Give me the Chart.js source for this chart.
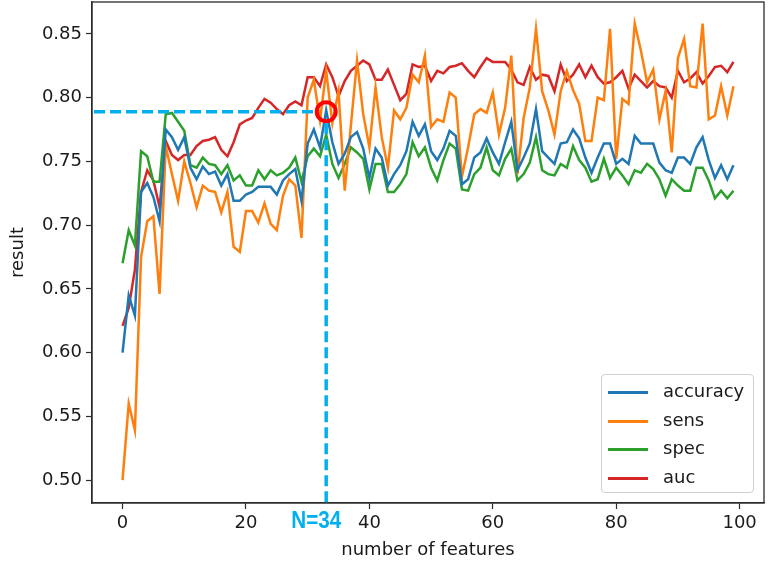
<!DOCTYPE html>
<html>
<head>
<meta charset="utf-8">
<script src="https://cdn.jsdelivr.net/npm/chart.js@4.4.1/dist/chart.umd.min.js"></script>
<style>
  html, body { margin: 0; padding: 0; background: #ffffff; }
  #wrap { position: relative; width: 772px; height: 566px; }
  #legend { position: absolute; left: 601px; top: 374px; width: 153px; height: 119px; box-sizing: border-box;
            border: 1px solid #d0d0d0; border-radius: 4px; background: rgba(255,255,255,0.85);
            font-family: "DejaVu Sans", sans-serif; font-size: 18px; color: #1a1a1a; }
  .row { position: absolute; left: 0; height: 24px; width: 100%; }
  .swatch { position: absolute; left: 6px; width: 40px; height: 3px; top: 11px; }
  .lab { position: absolute; left: 61px; top: 0; line-height: 22px; white-space: nowrap; }
</style>
</head>
<body>
<div id="wrap">
  <canvas id="c" width="772" height="566"></canvas>
  <div id="legend"></div>
</div>
<script>
// ---- data ----
const features = [0,1,2,3,4,5,6,7,8,9,10,11,12,13,14,15,16,17,18,19,20,21,22,23,24,25,26,27,28,29,30,31,32,33,34,35,36,37,38,39,40,41,42,43,44,45,46,47,48,49,50,51,52,53,54,55,56,57,58,59,60,61,62,63,64,65,66,67,68,69,70,71,72,73,74,75,76,77,78,79,80,81,82,83,84,85,86,87,88,89,90,91,92,93,94,95,96,97,98,99];

const accuracy = [0.600,0.645,0.629,0.726,0.733,0.722,0.703,0.775,0.769,0.759,
  0.769,0.745,0.736,0.746,0.740,0.742,0.731,0.740,0.719,0.719,
  0.724,0.726,0.730,0.730,0.730,0.724,0.735,0.740,0.744,0.719,
  0.764,0.775,0.761,0.790,0.765,0.748,0.756,0.769,0.773,0.760,
  0.737,0.760,0.753,0.731,0.740,0.747,0.758,0.781,0.770,0.779,
  0.758,0.751,0.760,0.774,0.770,0.732,0.736,0.753,0.757,0.768,
  0.757,0.748,0.765,0.781,0.743,0.753,0.764,0.791,0.758,0.753,
  0.748,0.764,0.765,0.775,0.768,0.753,0.741,0.753,0.764,0.764,
  0.748,0.752,0.748,0.770,0.764,0.764,0.764,0.749,0.743,0.741,
  0.753,0.753,0.748,0.761,0.769,0.751,0.737,0.747,0.736,0.747];

const sens = [0.500,0.560,0.539,0.675,0.703,0.707,0.646,0.762,0.740,0.719,
  0.750,0.733,0.714,0.731,0.727,0.726,0.710,0.726,0.683,0.679,
  0.711,0.711,0.702,0.717,0.701,0.696,0.723,0.736,0.731,0.690,
  0.800,0.814,0.782,0.821,0.780,0.805,0.727,0.778,0.829,0.787,
  0.761,0.808,0.769,0.745,0.790,0.783,0.792,0.818,0.812,0.833,
  0.777,0.783,0.781,0.804,0.800,0.738,0.761,0.787,0.791,0.788,
  0.804,0.771,0.792,0.833,0.740,0.784,0.808,0.854,0.805,0.790,
  0.771,0.805,0.821,0.806,0.795,0.766,0.766,0.800,0.798,0.854,
  0.752,0.799,0.795,0.858,0.837,0.812,0.822,0.783,0.805,0.757,
  0.831,0.846,0.809,0.808,0.858,0.783,0.786,0.809,0.786,0.809];

const spec = [0.670,0.696,0.684,0.758,0.754,0.734,0.734,0.787,0.788,0.781,
  0.774,0.747,0.745,0.753,0.748,0.747,0.740,0.747,0.735,0.739,
  0.731,0.731,0.743,0.736,0.743,0.739,0.741,0.745,0.753,0.734,
  0.754,0.760,0.754,0.771,0.748,0.737,0.748,0.761,0.757,0.752,
  0.728,0.748,0.748,0.726,0.726,0.732,0.740,0.765,0.754,0.761,
  0.745,0.735,0.751,0.764,0.760,0.728,0.727,0.740,0.745,0.761,
  0.743,0.739,0.752,0.760,0.735,0.740,0.749,0.769,0.743,0.740,
  0.739,0.748,0.745,0.762,0.751,0.745,0.734,0.736,0.752,0.737,
  0.745,0.739,0.732,0.743,0.741,0.748,0.744,0.736,0.723,0.736,
  0.731,0.727,0.727,0.745,0.745,0.735,0.721,0.727,0.721,0.727];

const auc = [0.621,0.635,0.665,0.726,0.743,0.735,0.714,0.766,0.755,0.751,
  0.755,0.755,0.762,0.766,0.767,0.769,0.759,0.754,0.765,0.779,
  0.782,0.784,0.792,0.799,0.796,0.791,0.787,0.794,0.797,0.794,
  0.816,0.816,0.809,0.826,0.816,0.801,0.813,0.821,0.825,0.829,
  0.826,0.814,0.814,0.822,0.810,0.798,0.803,0.826,0.824,0.825,
  0.813,0.821,0.819,0.824,0.825,0.827,0.821,0.816,0.824,0.831,
  0.828,0.828,0.828,0.822,0.812,0.810,0.824,0.814,0.818,0.817,
  0.805,0.826,0.813,0.818,0.826,0.816,0.825,0.816,0.811,0.812,
  0.816,0.821,0.807,0.818,0.813,0.808,0.813,0.809,0.808,0.800,
  0.821,0.812,0.815,0.820,0.811,0.817,0.824,0.825,0.820,0.828];

const seriesNames = ['accuracy', 'sens', 'spec', 'auc'];
const seriesColors = ['#1f77b4', '#ff7f0e', '#2ca02c', '#d62728'];
const xTicks = [0, 20, 40, 60, 80, 100];
const yTicks = [0.50, 0.55, 0.60, 0.65, 0.70, 0.75, 0.80, 0.85];

// highlighted choice
const chosenIndex = 33;
const chosenValue = 0.789;
const chosenLabel = 'N=34';

// ---- chart ----
const allSeries = [accuracy, sens, spec, auc];
const datasets = allSeries.map((vals, k) => ({
  label: seriesNames[k],
  data: features.map((f, i) => ({ x: f, y: vals[i] })),
  borderColor: seriesColors[k],
  backgroundColor: seriesColors[k],
  borderWidth: 2.5,
  pointRadius: 0,
  tension: 0,
  fill: false
}));

const FONT = { family: '"DejaVu Sans", sans-serif', size: 18 };
const TXT = '#1a1a1a';

const framePlugin = {
  id: 'frame',
  afterDatasetsDraw(chart) {
    const { ctx, chartArea: a, scales } = chart;
    ctx.save();
    ctx.strokeStyle = '#2b2b2b';
    ctx.lineWidth = 1.3;
    ctx.strokeRect(a.left, a.top, a.right - a.left, a.bottom - a.top);
    ctx.restore();

    const px = scales.x.getPixelForValue(chosenIndex);
    const py = scales.y.getPixelForValue(chosenValue);
    const r = 9.5;
    ctx.save();
    ctx.strokeStyle = '#00b0f0';
    ctx.lineWidth = 3.5;
    ctx.setLineDash([11, 5]);
    ctx.beginPath();
    ctx.moveTo(a.left + 2, py);
    ctx.lineTo(px - r - 2, py);
    ctx.stroke();
    ctx.beginPath();
    ctx.moveTo(px, py + r + 2);
    ctx.lineTo(px, a.bottom + 3);
    ctx.stroke();
    ctx.setLineDash([]);
    ctx.strokeStyle = '#ff0000';
    ctx.lineWidth = 4;
    ctx.beginPath();
    ctx.arc(px, py, r, 0, Math.PI * 2);
    ctx.stroke();
    ctx.fillStyle = '#00b0f0';
    ctx.font = 'bold 24px "Liberation Sans", Arial, sans-serif';
    ctx.textAlign = 'center';
    ctx.textBaseline = 'middle';
    ctx.translate(px - 10, a.bottom + 18);
    ctx.scale(0.86, 1);
    ctx.fillText(chosenLabel, 0, 0);
    ctx.restore();
  }
};

const chart = new Chart(document.getElementById('c').getContext('2d'), {
  type: 'line',
  data: { datasets },
  plugins: [framePlugin],
  options: {
    responsive: false,
    animation: false,
    devicePixelRatio: 1,
    layout: { padding: { left: 0, right: 8, top: 2, bottom: 0 } },
    plugins: { legend: { display: false }, tooltip: { enabled: false } },
    scales: {
      x: {
        type: 'linear',
        min: -4.95,
        max: 103.95,
        afterFit(s) { s.height = 63; s.paddingLeft = 0; s.paddingRight = 0; },
        afterBuildTicks(s) { s.ticks = xTicks.map(v => ({ value: v })); },
        grid: { drawOnChartArea: false, drawTicks: true, tickLength: 6, tickColor: '#2b2b2b', tickWidth: 1.2 },
        border: { display: true, color: '#2b2b2b', width: 1.3 },
        ticks: { padding: 4, font: FONT, color: TXT, maxRotation: 0, callback: v => String(v) },
        title: { display: true, text: 'number of features', font: FONT, color: TXT, padding: { top: 0, bottom: 5 } }
      },
      y: {
        type: 'linear',
        min: 0.482,
        max: 0.875,
        afterFit(s) { s.width = 92; s.paddingTop = 0; s.paddingBottom = 0; },
        afterBuildTicks(s) { s.ticks = yTicks.map(v => ({ value: v })); },
        grid: { drawOnChartArea: false, drawTicks: true, tickLength: 6, tickColor: '#2b2b2b', tickWidth: 1.2 },
        border: { display: true, color: '#2b2b2b', width: 1.3 },
        ticks: { padding: 4, font: FONT, color: TXT, callback: v => Number(v).toFixed(2) },
        title: { display: true, text: 'result', font: FONT, color: TXT, padding: { top: 8, bottom: 0 } }
      }
    }
  }
});

// ---- legend (real text) built from the chart's datasets ----
const legend = document.getElementById('legend');
chart.data.datasets.forEach((ds, k) => {
  const row = document.createElement('div');
  row.className = 'row';
  row.style.top = Math.round(5 + k * 28.5) + 'px';
  const sw = document.createElement('div');
  sw.className = 'swatch';
  sw.style.background = ds.borderColor;
  const lab = document.createElement('div');
  lab.className = 'lab';
  lab.textContent = ds.label;
  row.appendChild(sw);
  row.appendChild(lab);
  legend.appendChild(row);
});
</script>
</body>
</html>
